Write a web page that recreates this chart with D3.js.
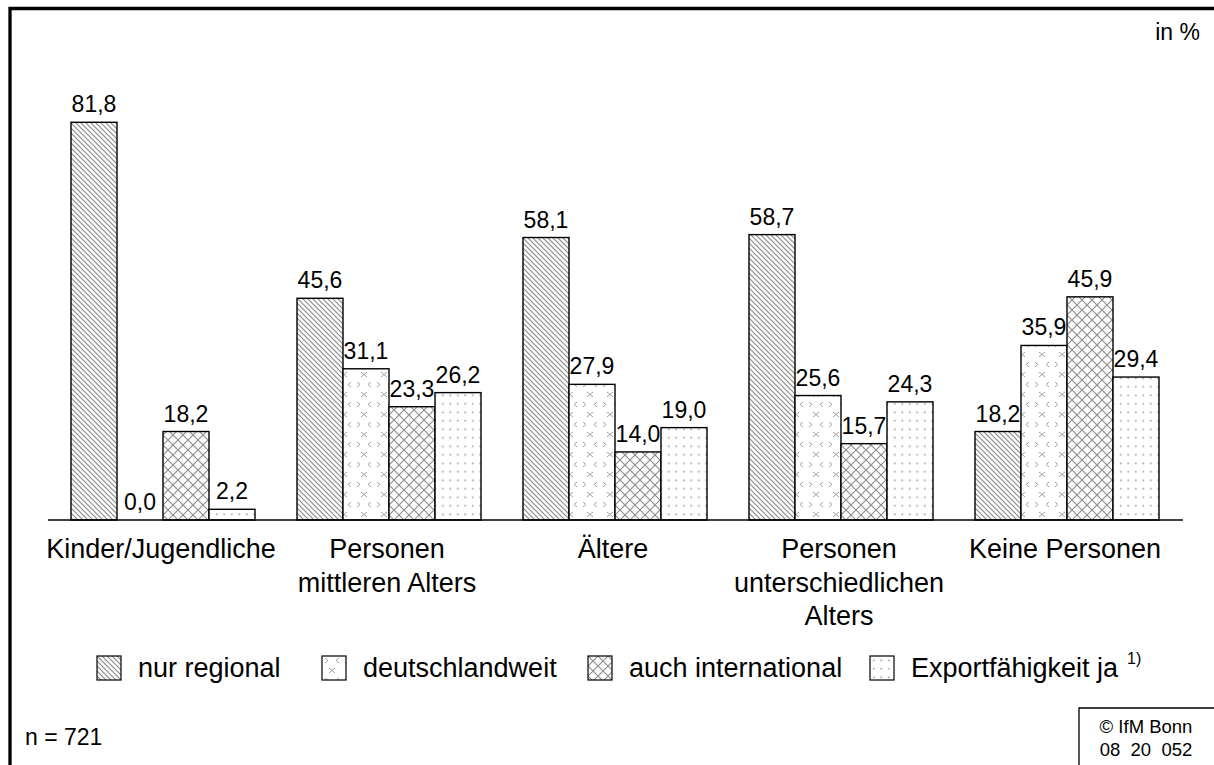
<!DOCTYPE html>
<html>
<head>
<meta charset="utf-8">
<script src="https://cdn.jsdelivr.net/npm/d3@7"></script>
<style>
  body { margin:0; background:#fff; }
  text { font-family: "Liberation Sans", Arial, sans-serif; fill:#000; }
</style>
</head>
<body>
<div id="chart"></div>
<script>
// categories (lines of the x labels)
var categories = ["Kinder/Jugendliche", "Personen mittleren Alters", "Ältere", "Personen unterschiedlichen Alters", "Keine Personen"];
var categoryLines = [["Kinder/Jugendliche"], ["Personen", "mittleren Alters"], ["Ältere"], ["Personen", "unterschiedlichen", "Alters"], ["Keine Personen"]];
var seriesNames = ["nur regional", "deutschlandweit", "auch international", "Exportfähigkeit ja"];
var nurRegional = [81.8, 45.6, 58.1, 58.7, 18.2];
var deutschlandweit = [0.0, 31.1, 27.9, 25.6, 35.9];
var auchInternational = [18.2, 23.3, 14.0, 15.7, 45.9];
var exportfaehig = [2.2, 26.2, 19.0, 24.3, 29.4];
var allSeries = [nurRegional, deutschlandweit, auchInternational, exportfaehig];

var W = 1214, H = 765;
var svg = d3.select("#chart").append("svg").attr("width", W).attr("height", H);

// patterns
var defs = svg.append("defs");
var pat0 = defs.append("pattern").attr("id", "p0").attr("patternUnits", "userSpaceOnUse")
  .attr("width", 5).attr("height", 5);
pat0.append("rect").attr("width", 5).attr("height", 5).attr("fill", "#fff");
pat0.append("path").attr("d", "M-1,-1 L6,6 M-3.5,1.5 L3.5,8.5 M1.5,-3.5 L8.5,3.5")
  .attr("stroke", "#8c8c8c").attr("stroke-width", 1.2);

var pat1 = defs.append("pattern").attr("id", "p1").attr("patternUnits", "userSpaceOnUse")
  .attr("width", 20).attr("height", 20);
pat1.append("rect").attr("width", 20).attr("height", 20).attr("fill", "#fff");
pat1.append("path").attr("d", "M3,2 L6,4.5 L3,7 M17,2 L14,4.5 L17,7 M13,12 L10,14.5 L13,17 M7,12 L10,14.5 L7,17")
  .attr("stroke", "#a0a0a0").attr("stroke-width", 1).attr("fill", "none");

var pat2 = defs.append("pattern").attr("id", "p2").attr("patternUnits", "userSpaceOnUse")
  .attr("width", 10).attr("height", 10);
pat2.append("rect").attr("width", 10).attr("height", 10).attr("fill", "#fff");
pat2.append("path").attr("d", "M0,0 L10,10 M10,0 L0,10")
  .attr("stroke", "#8c8c8c").attr("stroke-width", 1.1);

var pat3 = defs.append("pattern").attr("id", "p3").attr("patternUnits", "userSpaceOnUse")
  .attr("width", 7.5).attr("height", 8.5);
pat3.append("rect").attr("width", 7.5).attr("height", 8.5).attr("fill", "#fff");
pat3.append("rect").attr("x", 3).attr("y", 3.5).attr("width", 1.6).attr("height", 1.6).attr("fill", "#9a9a9a");

var fills = ["url(#p0)", "url(#p1)", "url(#p2)", "url(#p3)"];

// frame
svg.append("path").attr("d", "M10," + H + " L10,8.5 L" + W + ",8.5")
  .attr("fill", "none").attr("stroke", "#000").attr("stroke-width", 3.3);

// scales
var baseY = 520;
var y = d3.scaleLinear().domain([0, 81.8]).range([baseY, 122.3]);
var x0 = d3.scaleBand().domain(categories).range([48, 1178]);
var x1 = d3.scaleBand().domain(d3.range(4)).range([23, 207]);

var groups = svg.selectAll("g.grp").data(categories).enter().append("g")
  .attr("class", "grp")
  .attr("transform", function(d) { return "translate(" + x0(d) + ",0)"; });

groups.selectAll("rect").data(function(d, gi) {
    return allSeries.map(function(s, si) { return { si: si, v: s[gi] }; });
  }).enter().append("rect")
  .attr("x", function(d) { return x1(d.si); })
  .attr("y", function(d) { return y(d.v); })
  .attr("width", x1.bandwidth())
  .attr("height", function(d) { return baseY - y(d.v); })
  .attr("fill", function(d) { return fills[d.si]; })
  .attr("stroke", "#000").attr("stroke-width", 1.4);

groups.selectAll("text.val").data(function(d, gi) {
    return allSeries.map(function(s, si) { return { si: si, v: s[gi] }; });
  }).enter().append("text")
  .attr("class", "val")
  .attr("x", function(d) { return x1(d.si) + x1.bandwidth() / 2; })
  .attr("y", function(d) { return y(d.v) - 10; })
  .attr("text-anchor", "middle")
  .style("font-size", "23px")
  .text(function(d) { return d3.format(".1f")(d.v).replace(".", ","); });

// axis line
svg.append("line").attr("x1", 48).attr("x2", 1183).attr("y1", baseY).attr("y2", baseY)
  .attr("stroke", "#000").attr("stroke-width", 1.4);

// category labels
groups.each(function(d, gi) {
  var t = d3.select(this).append("text")
    .attr("text-anchor", "middle")
    .style("font-size", "27px");
  categoryLines[gi].forEach(function(line, li) {
    t.append("tspan").attr("x", x0.bandwidth() / 2).attr("y", 558 + li * 33.5).text(line);
  });
});

// legend
var legX = [97, 322, 588, 870];
var leg = svg.selectAll("g.leg").data(seriesNames).enter().append("g")
  .attr("class", "leg")
  .attr("transform", function(d, i) { return "translate(" + legX[i] + ",656)"; });
leg.append("rect").attr("width", 24).attr("height", 24)
  .attr("fill", function(d, i) { return fills[i]; })
  .attr("stroke", "#000").attr("stroke-width", 1.2);
leg.append("text").attr("x", 41).attr("y", 21).style("font-size", "27px")
  .text(function(d) { return d; });
svg.append("text").attr("x", 1127).attr("y", 664).style("font-size", "16px").text("1)");

svg.append("text").attr("x", 1200).attr("y", 40).attr("text-anchor", "end")
  .style("font-size", "23px").text("in %");
svg.append("text").attr("x", 25).attr("y", 745).style("font-size", "23px").text("n = 721");

svg.append("path").attr("d", "M1079," + H + " L1079,708 L" + W + ",708")
  .attr("fill", "none").attr("stroke", "#000").attr("stroke-width", 1.3);
svg.append("text").attr("x", 1146).attr("y", 733).attr("text-anchor", "middle")
  .style("font-size", "18.5px").text("© IfM Bonn");
svg.append("text").attr("x", 1146).attr("y", 756).attr("text-anchor", "middle")
  .style("font-size", "18.5px").style("white-space", "pre").text("08  20  052");
</script>
</body>
</html>
